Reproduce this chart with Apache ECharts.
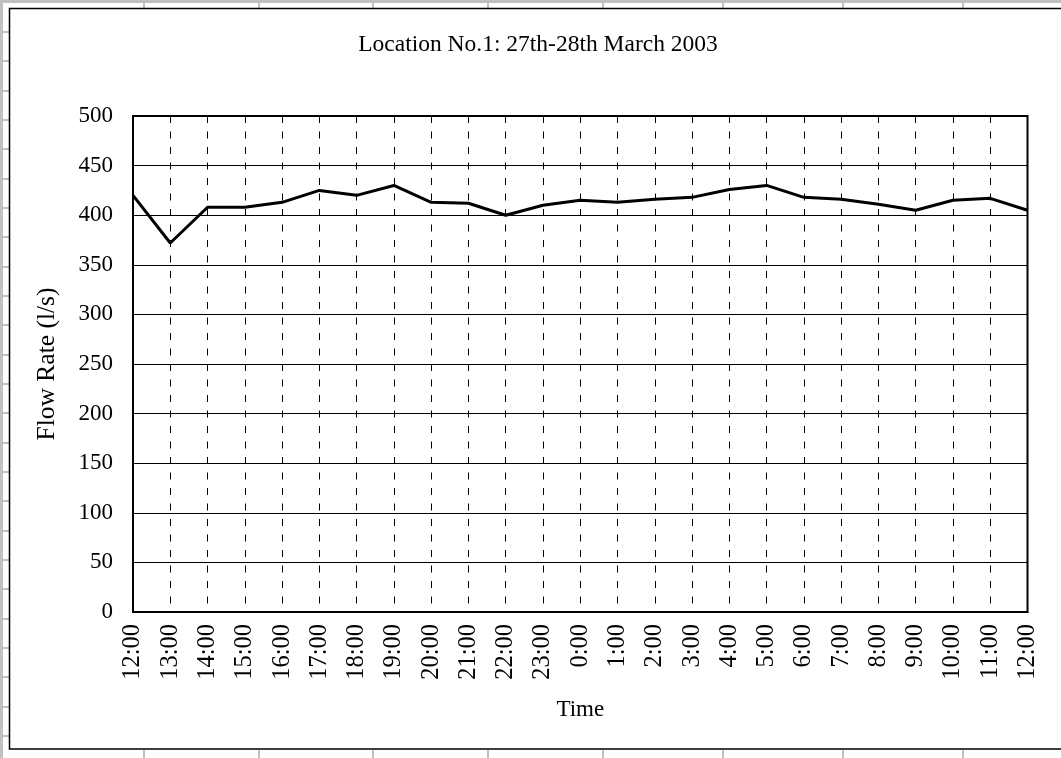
<!DOCTYPE html>
<html>
<head>
<meta charset="utf-8">
<title>Location No.1 flow rate</title>
<script src="https://cdn.jsdelivr.net/npm/echarts@6/dist/echarts.min.js"></script>
<style>
    html, body { margin: 0; padding: 0; background: #fff; }
    #flowChart { width: 1061px; height: 758px; }
</style>
</head>
<body>
<div id="flowChart"></div>
<script>
/*数据*/
var timeLabels = ['12:00','13:00','14:00','15:00','16:00','17:00','18:00','19:00','20:00','21:00','22:00','23:00',
    '0:00','1:00','2:00','3:00','4:00','5:00','6:00','7:00','8:00','9:00','10:00','11:00','12:00'];
var flowRate = [420, 372, 408, 408, 413, 425, 420, 430, 413, 412, 400, 410,
    415, 413, 416, 418, 426, 430, 418, 416, 411, 405, 415, 417, 405];
var yTicks = [0, 50, 100, 150, 200, 250, 300, 350, 400, 450, 500];

var fontName = '"Liberation Serif", "Times New Roman", serif';

// 背景的表格线 (excel sheet behind the chart)
function sheetLines() {
    var items = [];
    var gray = '#c0c0c0';
    items.push({type: 'rect', shape: {x: 0, y: 0, width: 1061, height: 3}, style: {fill: gray}, silent: true});
    items.push({type: 'rect', shape: {x: 0, y: 0, width: 3, height: 758}, style: {fill: gray}, silent: true});
    var cols = [144, 259, 373, 488, 603, 723, 843, 963];
    cols.forEach(function (x) {
        items.push({type: 'line', shape: {x1: x, y1: 0, x2: x, y2: 8}, style: {stroke: gray, lineWidth: 2}, silent: true});
        items.push({type: 'line', shape: {x1: x, y1: 750, x2: x, y2: 758}, style: {stroke: gray, lineWidth: 2}, silent: true});
    });
    for (var y = 32; y < 758; y += 29.33) {
        items.push({type: 'line', shape: {x1: 0, y1: Math.round(y), x2: 9, y2: Math.round(y)}, style: {stroke: gray, lineWidth: 2}, silent: true});
    }
    // chart area border
    items.push({type: 'rect', shape: {x: 9.5, y: 8.5, width: 1100, height: 740.5},
        style: {fill: null, stroke: '#000', lineWidth: 1.5}, silent: true, z: 10});
    return items;
}

function makeFlowChart() {
    var chart = echarts.init(document.getElementById('flowChart'));
    var option = {
        backgroundColor: '#fff',
        animation: false,
        title: {
            text: 'Location No.1: 27th-28th March 2003',
            left: 533,
            top: 28,
            textAlign: 'center',
            textStyle: {fontFamily: fontName, fontSize: 23.5, fontWeight: 'normal', color: '#000'}
        },
        graphic: sheetLines(),
        grid: {
            left: 133,
            top: 116,
            right: 33.5,
            bottom: 146,
            show: true,
            borderColor: '#000',
            borderWidth: 2,
            backgroundColor: '#fff'
        },
        xAxis: {
            type: 'category',
            boundaryGap: false,
            data: timeLabels,
            name: 'Time',
            nameLocation: 'middle',
            nameGap: 86,
            nameTextStyle: {fontFamily: fontName, fontSize: 23, color: '#000'},
            axisLine: {lineStyle: {color: '#000', width: 2}},
            axisTick: {show: false},
            axisLabel: {
                rotate: 90,
                margin: 12,
                interval: 0,
                fontFamily: fontName,
                fontSize: 24.5,
                color: '#000'
            },
            splitLine: {
                show: true,
                lineStyle: {color: '#000', width: 1, type: [7, 8.5]}
            }
        },
        yAxis: {
            type: 'value',
            min: yTicks[0],
            max: yTicks[yTicks.length - 1],
            interval: yTicks[1] - yTicks[0],
            name: 'Flow Rate (l/s)',
            nameLocation: 'middle',
            nameGap: 73,
            nameTextStyle: {fontFamily: fontName, fontSize: 25.5, color: '#000'},
            axisLine: {show: true, lineStyle: {color: '#000', width: 2}},
            axisTick: {show: true, inside: true, length: 7, lineStyle: {color: '#000', width: 1}},
            axisLabel: {margin: 20, padding: [6, 0, 0, 0], fontFamily: fontName, fontSize: 23, color: '#000'},
            splitLine: {show: true, lineStyle: {color: '#000', width: 1}}
        },
        series: [
            {
                name: 'Flow Rate',
                type: 'line',
                data: flowRate,
                symbol: 'none',
                lineStyle: {color: '#000', width: 3},
                z: 5
            }
        ]
    };
    chart.setOption(option);
}
makeFlowChart();
</script>
</body>
</html>
